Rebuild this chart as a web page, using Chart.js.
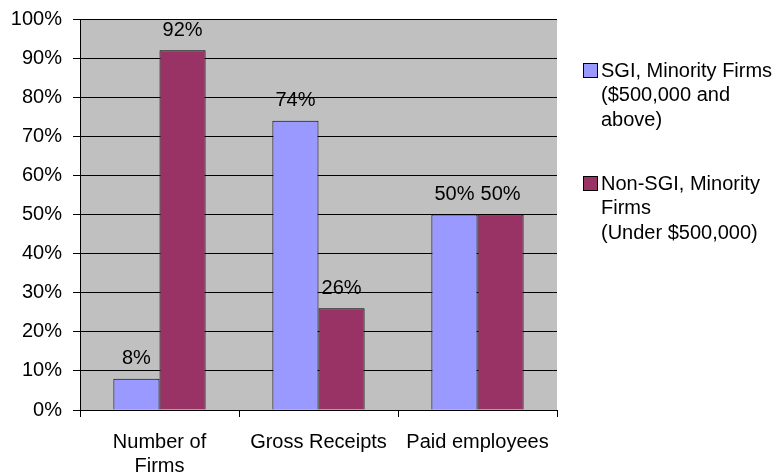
<!DOCTYPE html>
<html lang="en">
<head>
<meta charset="UTF-8">
<title>SGI vs Non-SGI Minority Firms</title>
<style>
  html, body { margin: 0; padding: 0; background: #fff; }
  #wrap { width: 777px; height: 476px; }
</style>
</head>
<body>
<div id="wrap"><canvas id="grafico"></canvas></div>
<script src="https://cdn.jsdelivr.net/npm/chart.js"></script>
<script>
// dados do gráfico
const categorias = [['Number of', 'Firms'], 'Gross Receipts', 'Paid employees'];
const sgiFirms = [8, 74, 50];
const nonSgiFirms = [92, 26, 50];
const legendaLinhas = [
  ['SGI, Minority Firms', '($500,000 and', 'above)'],
  ['Non-SGI, Minority', 'Firms', '(Under $500,000)']
];

const fonte = '"Liberation Sans", Arial, sans-serif';
const corAzul = '#9999FF';
const corVinho = '#993366';

// fundo cinza da área do gráfico
const fundoPlot = {
  id: 'fundoPlot',
  beforeDraw(chart) {
    const { ctx, chartArea: a } = chart;
    ctx.save();
    ctx.fillStyle = '#C0C0C0';
    ctx.fillRect(a.left, a.top, a.right - a.left, a.bottom - a.top);
    ctx.restore();
  }
};

// rótulos com o valor em cima das barras
const rotulos = {
  id: 'rotulos',
  afterDatasetsDraw(chart) {
    const ctx = chart.ctx;
    ctx.save();
    ctx.font = '20px ' + fonte;
    ctx.fillStyle = '#000';
    ctx.textAlign = 'center';
    ctx.textBaseline = 'middle';
    chart.data.datasets.forEach((ds, i) => {
      chart.getDatasetMeta(i).data.forEach((bar, j) => {
        ctx.fillText(ds.data[j] + '%', bar.x, bar.y - 20);
      });
    });
    ctx.restore();
  }
};

// legenda na direita, com várias linhas
const legendaDireita = {
  id: 'legendaDireita',
  afterDraw(chart) {
    const ctx = chart.ctx;
    ctx.save();
    ctx.font = '20px ' + fonte;
    ctx.textBaseline = 'middle';
    const topos = [71, 184];
    chart.data.datasets.forEach((ds, i) => {
      const y0 = topos[i];
      ctx.fillStyle = ds.backgroundColor;
      ctx.fillRect(583.5, y0 - 7.5, 14, 14);
      ctx.strokeStyle = '#000';
      ctx.lineWidth = 1;
      ctx.strokeRect(583.5, y0 - 7.5, 14, 14);
      ctx.fillStyle = '#000';
      legendaLinhas[i].forEach((linha, k) => {
        ctx.fillText(linha, 601, y0 + k * 24.5);
      });
    });
    ctx.restore();
  }
};

new Chart(document.getElementById('grafico'), {
  type: 'bar',
  data: {
    labels: categorias,
    datasets: [
      { label: legendaLinhas[0].join(' '), data: sgiFirms, backgroundColor: corAzul, borderColor: '#000', borderWidth: 1 },
      { label: legendaLinhas[1].join(' '), data: nonSgiFirms, backgroundColor: corVinho, borderColor: '#000', borderWidth: 1 }
    ]
  },
  options: {
    responsive: true,
    maintainAspectRatio: false,
    animation: false,
    layout: { padding: { top: 17, right: 220, left: 0, bottom: 0 } },
    datasets: { bar: { categoryPercentage: 0.58, barPercentage: 1.0 } },
    plugins: {
      legend: { display: false },
      tooltip: { enabled: false }
    },
    scales: {
      x: {
        afterFit(s) { s.height = 66; },
        grid: { offset: true, drawOnChartArea: false, drawTicks: true, tickLength: 7, color: '#000' },
        border: { color: '#000', width: 1 },
        ticks: { color: '#000', font: { family: fonte, size: 20, lineHeight: 1.2 }, padding: 13, maxRotation: 0 }
      },
      y: {
        min: 0,
        max: 100,
        afterFit(s) { s.width = 80; },
        grid: { color: '#000', tickLength: 7 },
        border: { color: '#000', width: 1 },
        ticks: {
          stepSize: 10,
          color: '#000',
          padding: 11,
          font: { family: fonte, size: 20, lineHeight: 0.8 },
          callback: v => v + '%'
        }
      }
    }
  },
  plugins: [fundoPlot, rotulos, legendaDireita]
});
</script>
</body>
</html>
